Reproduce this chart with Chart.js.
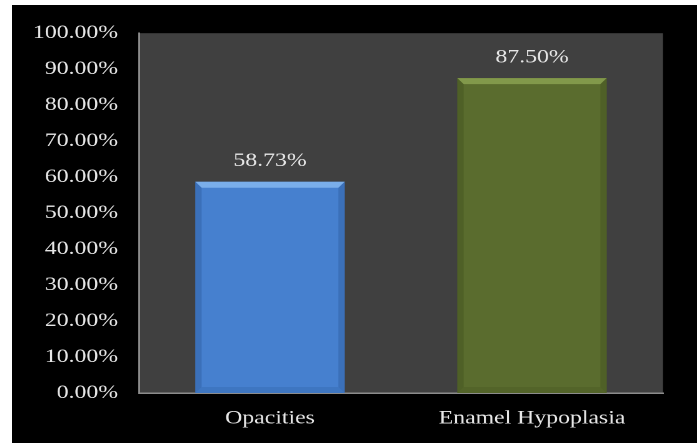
<!DOCTYPE html>
<html>
<head>
<meta charset="utf-8">
<script src="https://cdn.jsdelivr.net/npm/chart.js@4/dist/chart.umd.min.js"></script>
<style>
  html, body { margin: 0; padding: 0; background: #ffffff; overflow: hidden; }
  #frame { position: absolute; left: 12px; top: 5px; width: 685px; height: 438px; background: #000000; overflow: hidden; }
  /* the chart is drawn narrow and widened, which gives the broad lettering */
  #c { transform-origin: 0 0; transform: scaleX(1.25); }
</style>
</head>
<body>
<div id="frame"><canvas id="c"></canvas></div>
<script>
const categories = ['Opacities', 'Enamel Hypoplasia'];
const percentValues = [58.73, 87.50];
const barColors = ['#4680cf', '#5a6c2e'];
const bevelLight = ['#7aaeea', '#82994b'];
const bevelDark = ['#2f5fa3', '#44531f'];

const STRETCH = 1.25;
const W = 685 / STRETCH, H = 438;
const serif = '"Liberation Serif", "Times New Roman", serif';

const canvas = document.getElementById('c');
canvas.width = W; canvas.height = H;
canvas.style.width = W + 'px'; canvas.style.height = H + 'px';

const plotBackground = {
  id: 'plotBackground',
  beforeDraw(chart) {
    const { ctx, chartArea: a } = chart;
    ctx.save();
    ctx.fillStyle = '#404040';
    ctx.fillRect(a.left, a.top, a.right - a.left, a.bottom - a.top);
    ctx.restore();
  }
};

// bevelled edges and value captions on each bar
const bevelAndLabels = {
  id: 'bevelAndLabels',
  afterDatasetsDraw(chart) {
    const ctx = chart.ctx;
    const meta = chart.getDatasetMeta(0);
    meta.data.forEach((bar, i) => {
      const l = bar.x - bar.width / 2, r = bar.x + bar.width / 2;
      const t = bar.y, b = bar.base, dx = 5, dy = 6;
      ctx.save();
      ctx.fillStyle = bevelLight[i];
      ctx.beginPath();
      ctx.moveTo(l, t); ctx.lineTo(r, t); ctx.lineTo(r - dx, t + dy); ctx.lineTo(l + dx, t + dy);
      ctx.closePath(); ctx.fill();
      ctx.fillStyle = bevelDark[i];
      ctx.globalAlpha = 0.5;
      ctx.beginPath();
      ctx.moveTo(l, t); ctx.lineTo(l + dx, t + dy); ctx.lineTo(l + dx, b - dy); ctx.lineTo(l, b);
      ctx.closePath(); ctx.fill();
      ctx.beginPath();
      ctx.moveTo(r, t); ctx.lineTo(r - dx, t + dy); ctx.lineTo(r - dx, b - dy); ctx.lineTo(r, b);
      ctx.closePath(); ctx.fill();
      ctx.globalAlpha = 0.3;
      ctx.beginPath();
      ctx.moveTo(l, b); ctx.lineTo(l + dx, b - dy); ctx.lineTo(r - dx, b - dy); ctx.lineTo(r, b);
      ctx.closePath(); ctx.fill();
      ctx.restore();

      ctx.save();
      ctx.fillStyle = '#e6e6e6';
      ctx.font = '19px ' + serif;
      ctx.textAlign = 'center';
      ctx.textBaseline = 'bottom';
      ctx.fillText(percentValues[i].toFixed(2) + '%', bar.x, t - 11);
      ctx.restore();
    });
  }
};

new Chart(canvas, {
  type: 'bar',
  data: {
    labels: categories,
    datasets: [{
      data: percentValues,
      backgroundColor: barColors,
      borderWidth: 0,
      categoryPercentage: 0.76,
      barPercentage: 0.75
    }]
  },
  options: {
    responsive: false,
    animation: false,
    devicePixelRatio: 2,
    events: [],
    layout: { padding: { top: 23, right: 34 / STRETCH, left: 0, bottom: 0 } },
    plugins: { legend: { display: false }, tooltip: { enabled: false } },
    scales: {
      x: {
        grid: { display: false, drawTicks: false },
        border: { color: '#8c8c8c', width: 1.5 },
        ticks: { color: '#e6e6e6', padding: 14, font: { family: serif, size: 19 } },
        afterFit(scale) { scale.height = 50; }
      },
      y: {
        min: 0, max: 100,
        grid: { display: false, drawTicks: false },
        border: { color: '#8c8c8c', width: 1.5 },
        ticks: {
          stepSize: 10,
          color: '#e6e6e6',
          padding: 21 / STRETCH,
          font: { family: serif, size: 19 },
          callback: v => v.toFixed(2) + '%'
        },
        afterFit(scale) { scale.width = 127 / STRETCH; }
      }
    }
  },
  plugins: [plotBackground, bevelAndLabels]
});
</script>
</body>
</html>
